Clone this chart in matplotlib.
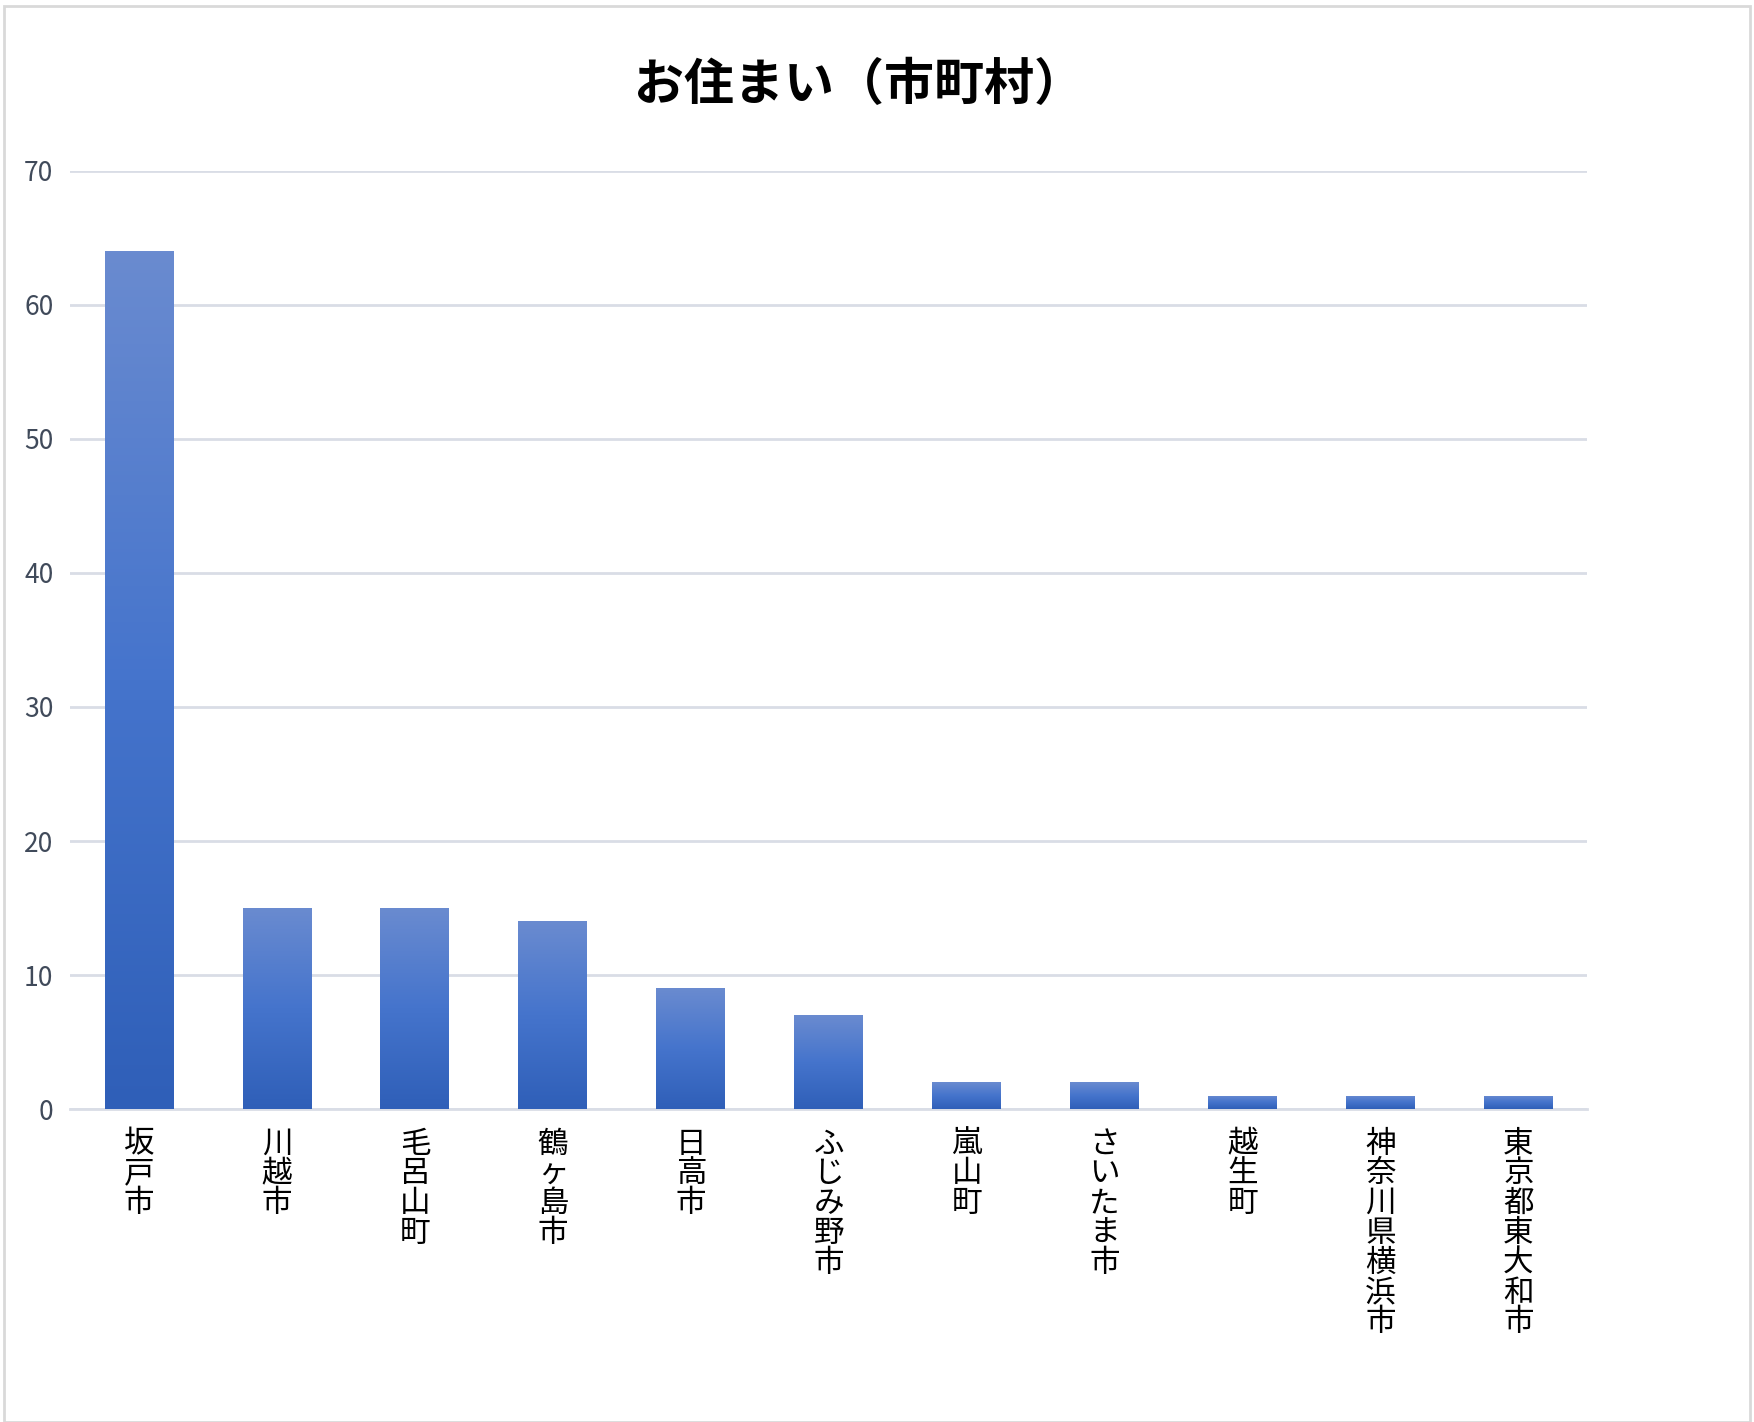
import matplotlib
matplotlib.use("Agg")
import matplotlib.pyplot as plt
import numpy as np
from matplotlib.colors import LinearSegmentedColormap
from matplotlib.patches import Rectangle

plt.rcParams['font.family'] = ['Noto Sans CJK JP', 'DejaVu Sans']

categories = ["坂戸市", "川越市", "毛呂山町", "鶴ヶ島市", "日高市", "ふじみ野市", "嵐山町", "さいたま市", "越生町", "神奈川県横浜市", "東京都東大和市"]
values = [64, 15, 15, 14, 9, 7, 2, 2, 1, 1, 1]
yticks = [0, 10, 20, 30, 40, 50, 60, 70]

fig = plt.figure(figsize=(17.54, 14.22), dpi=100)
ax = fig.add_axes([0.040, 0.220, 0.865, 0.660])
fig.add_artist(Rectangle((0.002, 0.0), 0.996, 0.996, transform=fig.transFigure,
                         fill=False, edgecolor='#d9d9d9', linewidth=2))

x = np.arange(len(categories))
bars = ax.bar(x, values, width=0.5, color='#4472c4', zorder=2)
cmap = LinearSegmentedColormap.from_list('g', ['#2f5fb8', '#4574cc', '#6a8bd0'])
grad = np.linspace(0, 1, 256).reshape(-1, 1)
for b in bars:
    x0, w, h = b.get_x(), b.get_width(), b.get_height()
    im = ax.imshow(grad, cmap=cmap, origin='lower', aspect='auto',
                   extent=[x0, x0 + w, 0, h], zorder=3)
    im.set_clip_path(b)

ax.set_xlim(-0.5, len(categories) - 0.5)
ax.set_ylim(0, 70)
ax.set_yticks(yticks)
ax.yaxis.grid(True, color='#d9dde6', linewidth=2, zorder=0)
for s in ['top', 'right', 'left']:
    ax.spines[s].set_visible(False)
ax.spines['bottom'].set_color('#d9dde6')
ax.spines['bottom'].set_linewidth(2)
ax.tick_params(axis='both', length=0)
ax.tick_params(axis='y', labelsize=19, labelcolor='#404a5a', pad=12)
ax.set_xticks(x)
ax.set_xticklabels(["\n".join(c) for c in categories], fontsize=22, va='top',
                   linespacing=0.95)
ax.tick_params(axis='x', pad=14)
fig.text(0.49, 0.94, "お住まい（市町村）", ha='center', va='center',
         fontsize=36, fontweight='bold')
fig.savefig("out.png", dpi=100)
